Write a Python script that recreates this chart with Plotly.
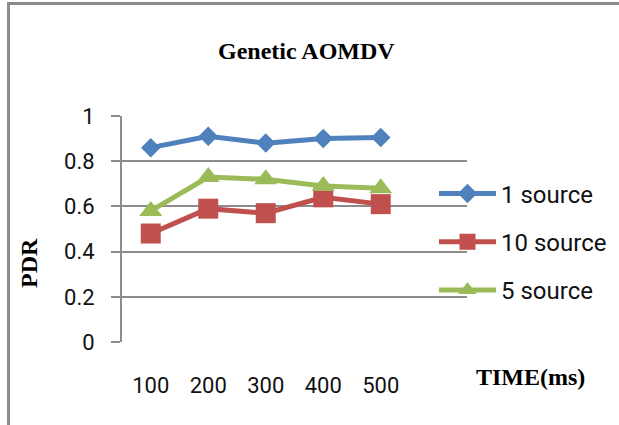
import plotly.graph_objects as go

# Packet delivery ratio over simulation time for Genetic AOMDV
time_labels = ["100", "200", "300", "400", "500"]
pdr_1_source = [0.86, 0.91, 0.88, 0.90, 0.905]
pdr_10_source = [0.48, 0.59, 0.57, 0.64, 0.61]
pdr_5_source = [0.58, 0.73, 0.72, 0.69, 0.68]
y_ticks = [0, 0.2, 0.4, 0.6, 0.8, 1]

BLUE = "#4F81BD"
RED = "#C0504D"
GREEN = "#9BBB59"
GRID = "#8C8C8C"

W, H = 619, 425
# plot area edges in page pixels
LEFT, RIGHT, TOP, BOTTOM = 122, 467, 116, 342


def fx(px):
    return px / W


def fy(py):
    return 1 - py / H


fig = go.Figure()
series = [
    ("1 source", pdr_1_source, BLUE, "diamond", 15),
    ("10 source", pdr_10_source, RED, "square", 20),
    ("5 source", pdr_5_source, GREEN, "triangle-up", 20),
]
for name, vals, color, symbol, size in series:
    fig.add_trace(go.Scatter(
        x=time_labels, y=vals, name=name, mode="lines+markers",
        line=dict(color=color, width=5),
        marker=dict(symbol=symbol, size=size, color=color),
        legendgroup=name,
    ))

# empty trace that only sets up the outer frame subplot (x2/y2)
fig.add_trace(go.Scatter(
    x=[], y=[], xaxis="x2", yaxis="y2", mode="lines",
    showlegend=False, hoverinfo="skip",
))

fig.update_layout(
    width=W, height=H,
    margin=dict(l=0, r=0, t=0, b=0, autoexpand=False),
    paper_bgcolor="white", plot_bgcolor="rgba(0,0,0,0)",
    showlegend=True,
    legend=dict(
        xref="container", yref="container",
        x=434 / W, xanchor="left", y=1 - 242 / H, yanchor="middle",
        font=dict(family="Roboto", size=24, color="#111111"),
        bgcolor="rgba(0,0,0,0)", itemwidth=57, tracegroupgap=14,
    ),
    xaxis=dict(
        domain=[fx(LEFT), fx(RIGHT)], anchor="y",
        type="category", range=[-0.5, 5.5], showgrid=False, zeroline=False,
        showline=False, ticks="",
        tickfont=dict(family="Roboto", size=22, color="#111111"),
        ticklabelstandoff=28,
    ),
    yaxis=dict(
        domain=[fy(BOTTOM), fy(TOP)], anchor="x",
        range=[0, 1], tickvals=y_ticks, ticktext=[f"{v:g}" for v in y_ticks],
        showgrid=True, gridcolor=GRID, gridwidth=2, zeroline=False,
        showline=True, linecolor=GRID, linewidth=2,
        ticks="outside", ticklen=9, tickwidth=2, tickcolor=GRID,
        tickfont=dict(family="Roboto", size=22, color="#111111"),
        ticklabelstandoff=12,
    ),
    # outer chart frame: top and left edges drawn as bare axis lines
    xaxis2=dict(
        domain=[fx(10), 1], anchor="y2", side="top", range=[0, 1],
        showline=True, linecolor=GRID, linewidth=3,
        showgrid=False, zeroline=False, showticklabels=False, ticks="",
        fixedrange=True,
    ),
    yaxis2=dict(
        domain=[0, fy(5)], anchor="x2", side="left", range=[0, 1],
        showline=True, linecolor=GRID, linewidth=3,
        showgrid=False, zeroline=False, showticklabels=False, ticks="",
        fixedrange=True,
    ),
    annotations=[
        dict(text="<b>Genetic AOMDV</b>", xref="paper", yref="paper",
             x=fx(306), y=fy(51), xanchor="center", yanchor="middle",
             showarrow=False,
             font=dict(family="Liberation Serif", size=24, color="#000000")),
        dict(text="<b>TIME(ms)</b>", xref="paper", yref="paper",
             x=fx(530), y=fy(377), xanchor="center", yanchor="middle",
             showarrow=False,
             font=dict(family="Liberation Serif", size=24, color="#000000")),
        dict(text="<b>PDR</b>", xref="paper", yref="paper",
             x=fx(29), y=fy(263), xanchor="center", yanchor="middle",
             showarrow=False, textangle=-90,
             font=dict(family="Liberation Serif", size=24, color="#000000")),
    ],
)

fig.write_html("out.html")
